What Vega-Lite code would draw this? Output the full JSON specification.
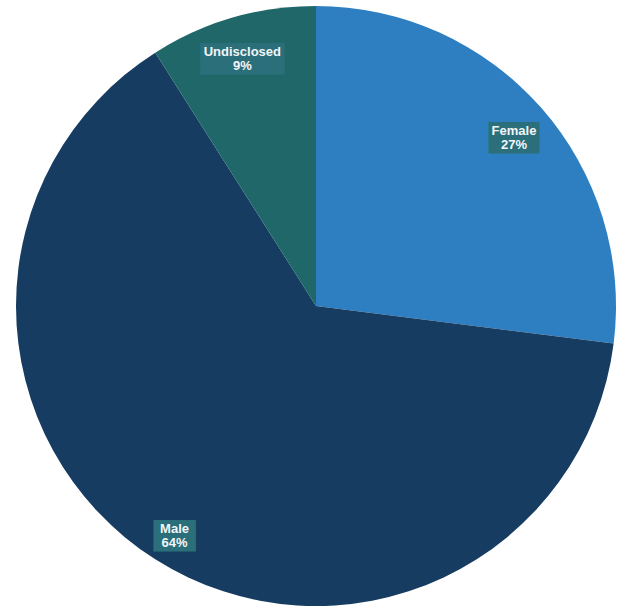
{
  "$schema": "https://vega.github.io/schema/vega-lite/v6.json",
  "width": 626,
  "height": 609,
  "autosize": {"type": "fit", "contains": "padding"},
  "padding": {"left": 6, "top": 3, "right": 0, "bottom": 0},
  "background": "white",
  "view": {"stroke": null},
  "data": {
    "values": [
      {"gender": "Female", "pct": 27, "order": 1},
      {"gender": "Male", "pct": 64, "order": 2},
      {"gender": "Undisclosed", "pct": 9, "order": 3}
    ]
  },
  "transform": [
    {"calculate": "datum.gender + '\\n' + datum.pct + '%'", "as": "label"},
    {"calculate": "pad('', round(length(datum.gender) * 0.7) + 2, '█')", "as": "row"},
    {"calculate": "datum.row + '\\n' + datum.row", "as": "box"}
  ],
  "encoding": {
    "theta": {"field": "pct", "type": "quantitative", "stack": true},
    "order": {"field": "order", "type": "quantitative"}
  },
  "layer": [
    {
      "mark": {"type": "arc", "outerRadius": 300},
      "encoding": {
        "color": {
          "field": "gender",
          "type": "nominal",
          "scale": {"domain": ["Female", "Male", "Undisclosed"], "range": ["#2e7fc1", "#173c61", "#1f6769"]},
          "legend": null
        }
      }
    },
    {
      "mark": {
        "type": "text",
        "radius": 264,
        "font": "DejaVu Sans Mono",
        "fontSize": 14,
        "lineHeight": 15,
        "lineBreak": "\n",
        "color": "#2b6f7b",
        "baseline": "middle",
        "align": "center"
      },
      "encoding": {"text": {"field": "box"}}
    },
    {
      "mark": {
        "type": "text",
        "radius": 264,
        "font": "Liberation Sans",
        "fontSize": 13,
        "fontWeight": "bold",
        "lineHeight": 14,
        "lineBreak": "\n",
        "color": "#f2f6f8",
        "baseline": "middle",
        "align": "center"
      },
      "encoding": {"text": {"field": "label"}}
    }
  ]
}
